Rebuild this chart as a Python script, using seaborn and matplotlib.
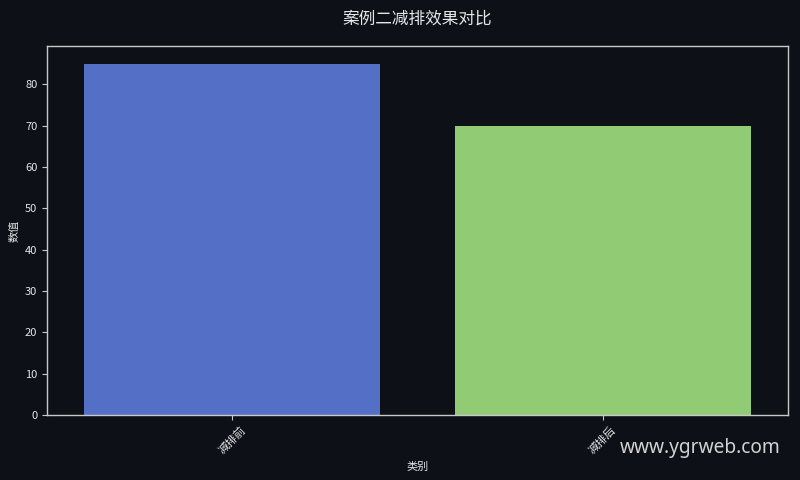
import pandas as pd
import matplotlib
matplotlib.use("Agg")
import matplotlib.pyplot as plt
import seaborn as sns

# ======================================================
# DATA
# ======================================================
categories = ["减排前", "减排后"]
values = [85, 70]
bar_colors = ["#5470c6", "#91cc75"]

BG = "#0d1017"
FG = "#e6e6e6"

sns.set_theme(style="dark")
plt.rcParams['font.family'] = ['Noto Sans CJK SC', 'DejaVu Sans']
plt.rcParams['axes.unicode_minus'] = False

df = pd.DataFrame({"类别": categories, "数值": values})

fig, ax = plt.subplots(figsize=(8, 4.8), dpi=100)
fig.patch.set_facecolor(BG)
ax.set_facecolor(BG)

sns.barplot(data=df, x="类别", y="数值", hue="类别", palette=bar_colors,
            legend=False, ax=ax, saturation=1, width=0.8, linewidth=0)

ax.set_title("案例二减排效果对比", color=FG, fontsize=12, pad=16)
ax.set_xlabel("类别", color=FG, fontsize=8)
ax.set_ylabel("数值", color=FG, fontsize=8)
ax.tick_params(axis="both", colors="#c8c8c8", labelcolor=FG, labelsize=8,
               length=3.5, width=0.8, left=True, bottom=True)
plt.setp(ax.get_xticklabels(), rotation=45)
for sp in ax.spines.values():
    sp.set_color("#c8c8c8")
    sp.set_linewidth(1.0)
ax.grid(False)

fig.subplots_adjust(left=0.05875, right=0.985, top=0.904, bottom=0.135)
fig.text(0.976, 0.066, "www.ygrweb.com", color="#d2d2d2", fontsize=13.8,
         ha="right", va="center", family=["Noto Sans", "DejaVu Sans"])

plt.savefig("out.png", facecolor=BG)
plt.close()
